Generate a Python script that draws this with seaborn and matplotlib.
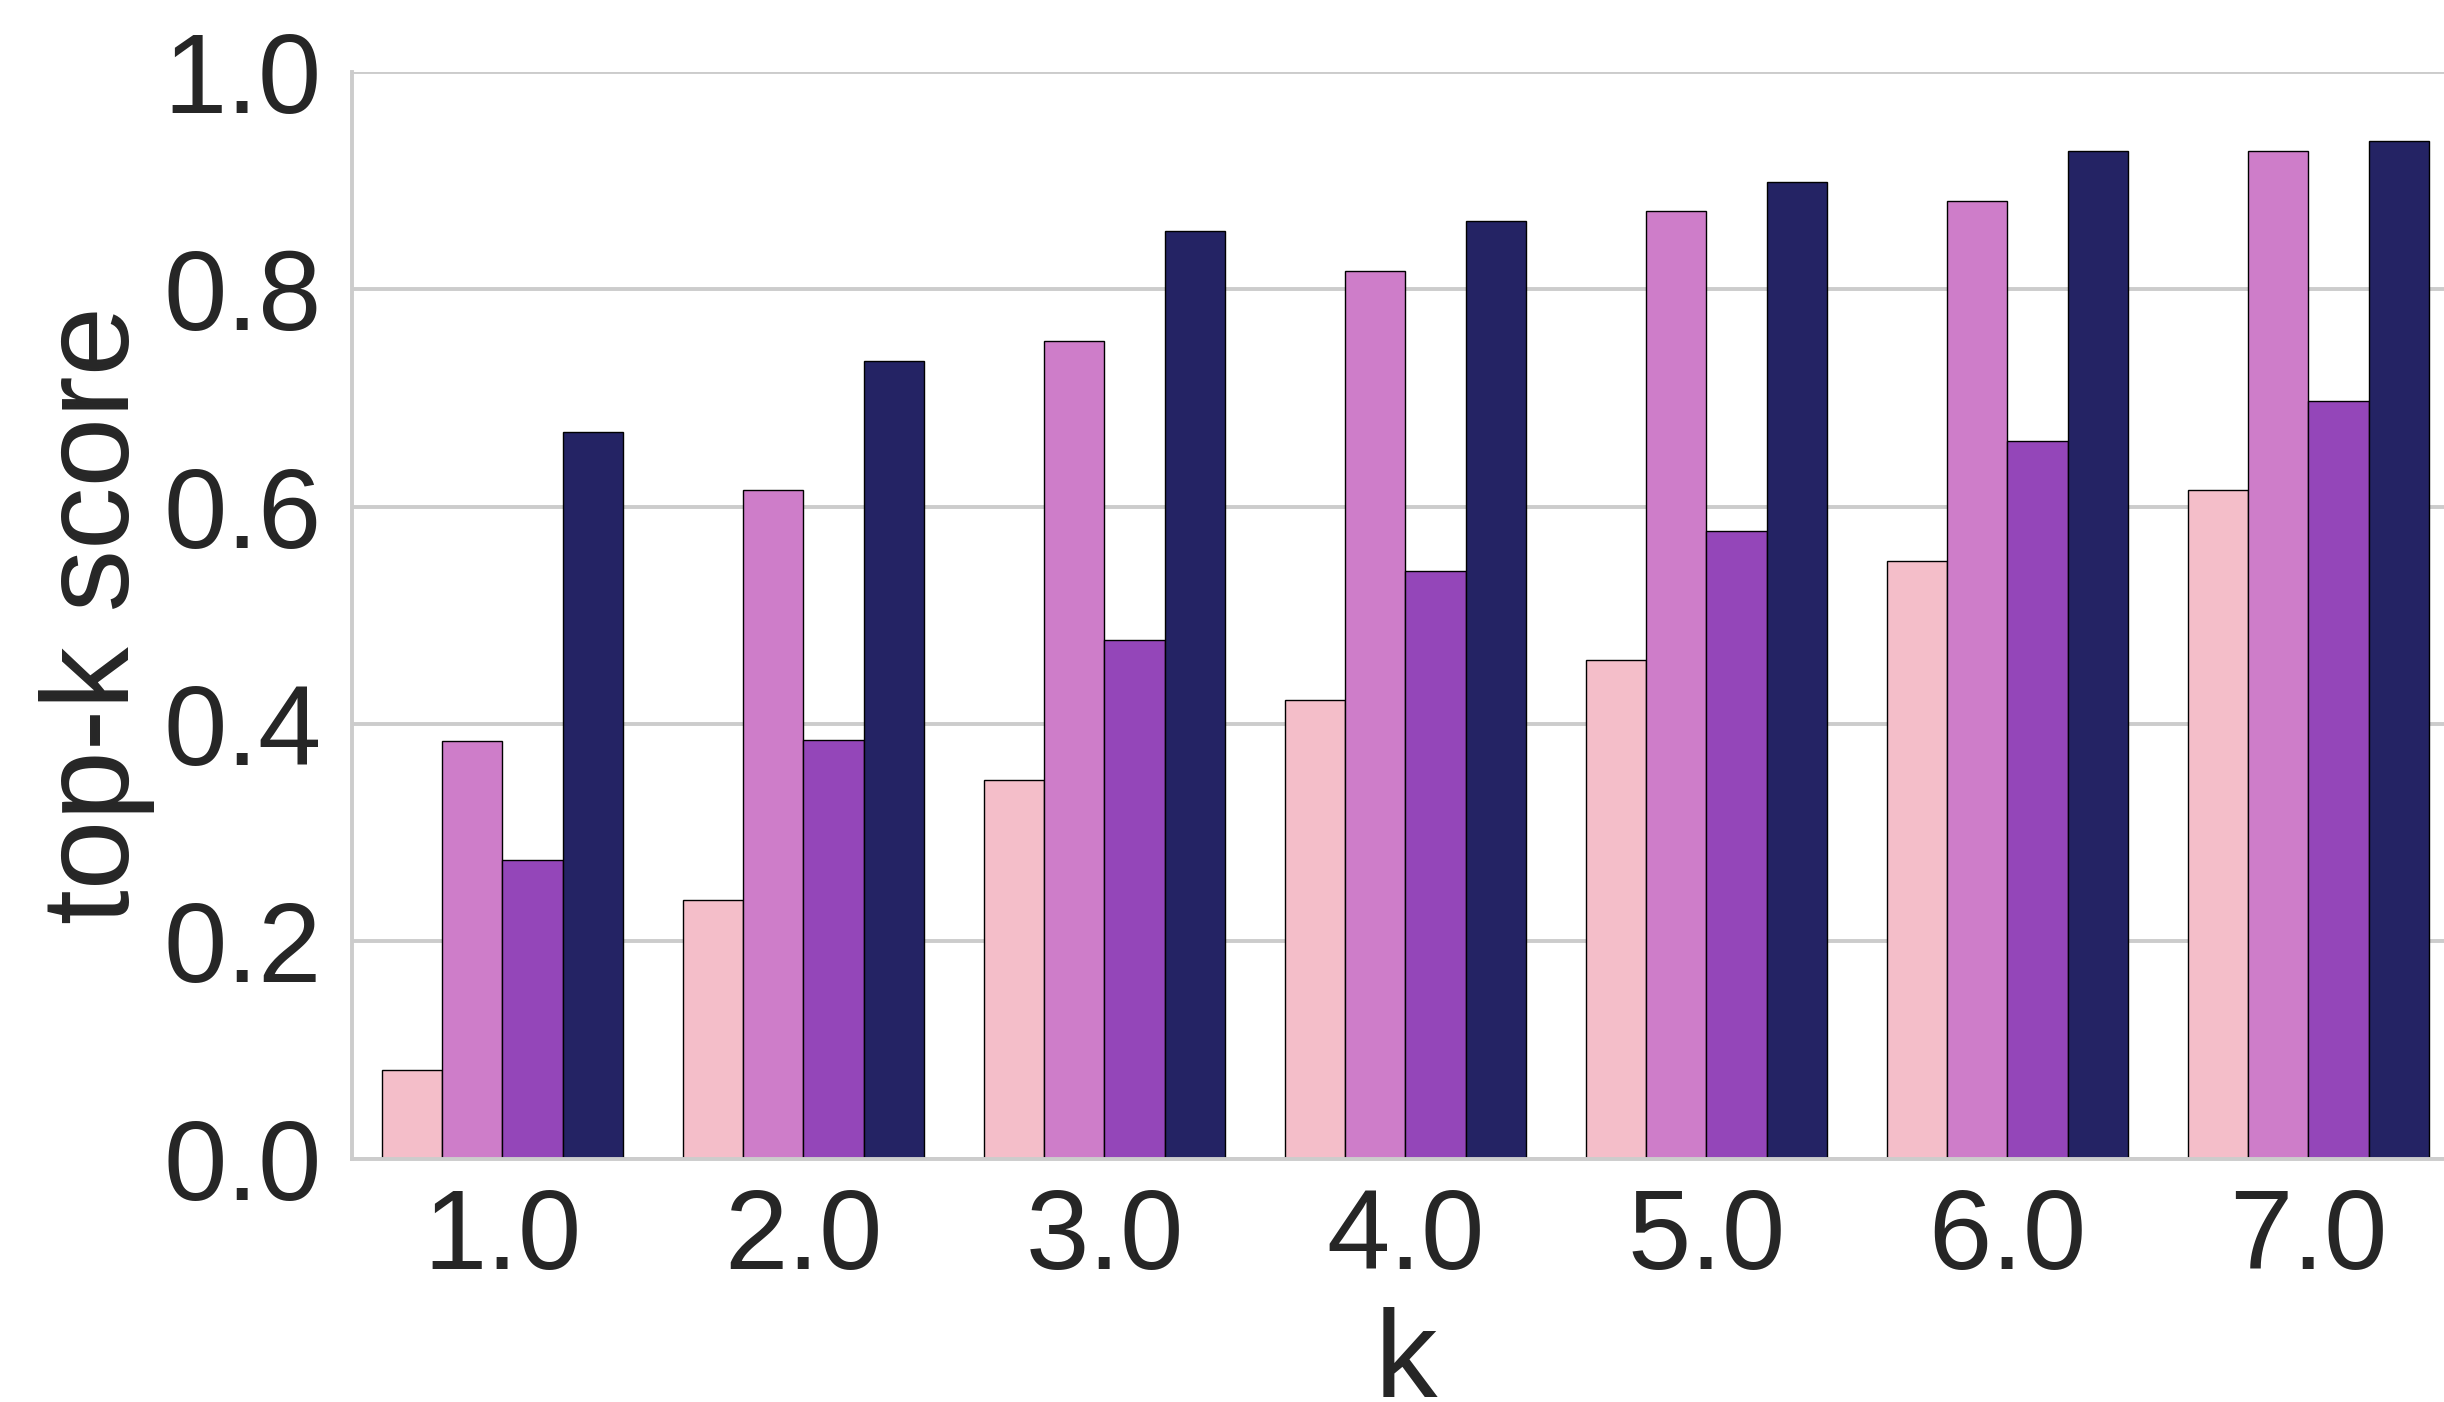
import pandas as pd
import matplotlib
matplotlib.use('Agg')
import matplotlib.pyplot as plt
import seaborn as sns

k_values = ['1.0', '2.0', '3.0', '4.0', '5.0', '6.0', '7.0']
series_names = ['A', 'B', 'C', 'D']
score_a = [0.082, 0.238, 0.349, 0.422, 0.459, 0.550, 0.615]
score_b = [0.384, 0.615, 0.752, 0.817, 0.872, 0.881, 0.927]
score_c = [0.275, 0.385, 0.477, 0.541, 0.578, 0.660, 0.697]
score_d = [0.669, 0.734, 0.854, 0.863, 0.899, 0.927, 0.936]
colors = ['#f4bec9', '#ce7dc9', '#9446b9', '#242364']

rows = []
for name, vals in zip(series_names, [score_a, score_b, score_c, score_d]):
    for k, v in zip(k_values, vals):
        rows.append({'k': k, 'score': v, 'method': name})
data = pd.DataFrame(rows)

sns.set_theme(style="whitegrid")
plt.rcParams['font.family'] = ['Liberation Sans', 'DejaVu Sans']
plt.rcParams['grid.color'] = '#cccccc'
plt.rcParams['grid.linewidth'] = 2.8

fig = plt.figure(figsize=(24.44, 14.02), dpi=100)
ax = fig.add_axes([0.1440, 0.1734, 0.8621, 0.7753])

sns.barplot(data=data, x='k', y='score', hue='method', order=k_values,
            hue_order=series_names, palette=colors, edgecolor='black',
            linewidth=1.0, saturation=1, legend=False, ax=ax)

ax.set_ylim(0, 1.0)
ax.set_yticks([0.0, 0.2, 0.4, 0.6, 0.8, 1.0])
ax.set_yticklabels(['0.0', '0.2', '0.4', '0.6', '0.8', '1.0'])
ax.tick_params(axis='y', labelsize=82, pad=16, colors='#262626')
ax.tick_params(axis='x', labelsize=82, pad=14, colors='#262626')
ax.set_xlabel('k', fontsize=90, labelpad=10, color='#262626')
ax.set_ylabel('top-k score', fontsize=90, labelpad=6, color='#262626')

for side in ['left', 'bottom']:
    ax.spines[side].set_color('#cccccc')
    ax.spines[side].set_linewidth(2.8)
for side in ['top', 'right']:
    ax.spines[side].set_visible(False)

plt.savefig('out.png', dpi=100)
